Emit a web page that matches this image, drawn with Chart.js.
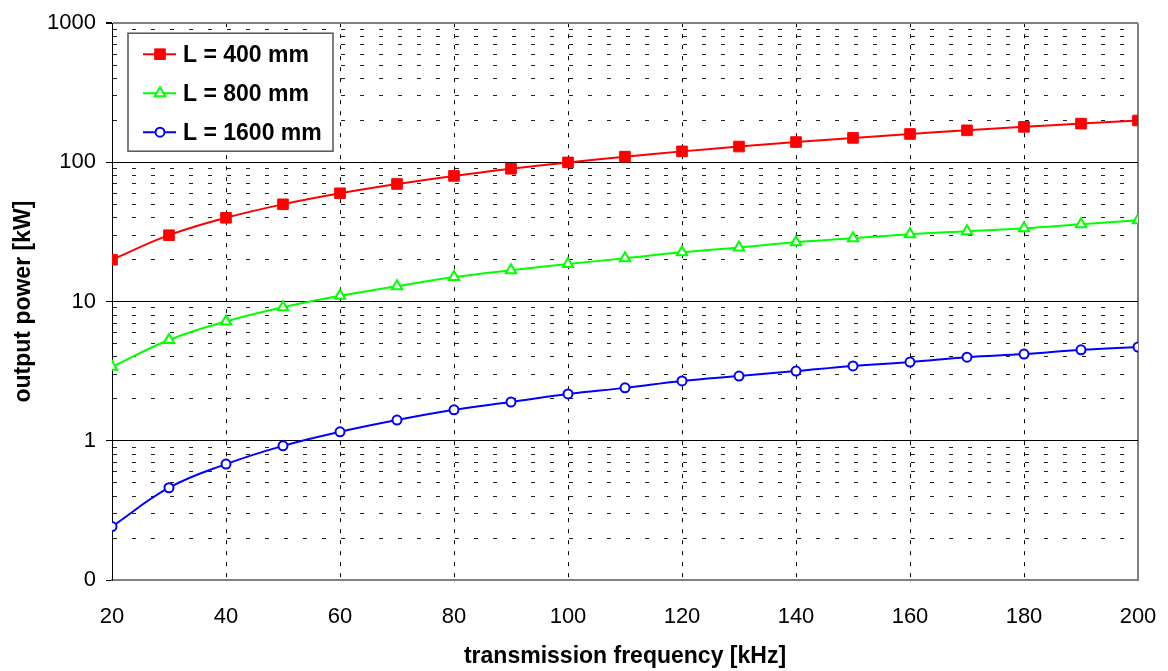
<!DOCTYPE html>
<html>
<head>
<meta charset="utf-8">
<script src="https://cdn.jsdelivr.net/npm/chart.js@4"></script>
<style>
  html, body { margin: 0; padding: 0; background: #fff; }
  #wrap { width: 1168px; height: 671px; }
</style>
</head>
<body>
<div id="wrap"><canvas id="powerChart"></canvas></div>
<script>
// frequencies [kHz]
var freq = [20, 30, 40, 50, 60, 70, 80, 90, 100, 110, 120, 130, 140, 150, 160, 170, 180, 190, 200];
// output power [kW] for each length
var power400 = [20, 30, 40, 50, 60, 70, 80, 90, 100, 110, 120, 130, 140, 150, 160, 170, 180, 190, 200];
var power800 = [3.4, 5.3, 7.2, 9.1, 11, 12.9, 15, 16.8, 18.6, 20.5, 22.6, 24.5, 26.7, 28.5, 30.5, 32, 33.6, 36, 38.4];
var power1600 = [0.242, 0.46, 0.68, 0.92, 1.16, 1.41, 1.67, 1.9, 2.17, 2.4, 2.69, 2.92, 3.17, 3.45, 3.68, 3.99, 4.2, 4.5, 4.72];
var seriesLabels = ['L = 400 mm', 'L = 800 mm', 'L = 1600 mm'];
var yTicks = [0.1, 0.2, 0.3, 0.4, 0.5, 0.6, 0.7, 0.8, 0.9,
              1, 2, 3, 4, 5, 6, 7, 8, 9,
              10, 20, 30, 40, 50, 60, 70, 80, 90,
              100, 200, 300, 400, 500, 600, 700, 800, 900, 1000];

function pts(ys) {
  return freq.map(function(f, i) { return {x: f, y: ys[i]}; });
}

function isDecade(v) {
  var l = Math.log10(v);
  return Math.abs(l - Math.round(l)) < 1e-9;
}

var FONT = "'Liberation Sans', Arial, sans-serif";

// legend box drawn inside the plot area (top left)
var boxLegend = {
  id: 'boxLegend',
  afterDraw: function(chart) {
    var ctx = chart.ctx;
    var a = chart.chartArea;
    var x0 = a.left + 16, y0 = a.top + 10, w = 205, h = 118;
    ctx.save();
    ctx.fillStyle = '#fff';
    ctx.fillRect(x0, y0, w, h);
    ctx.strokeStyle = '#555';
    ctx.lineWidth = 1.5;
    ctx.strokeRect(x0, y0, w, h);
    chart.data.datasets.forEach(function(ds, i) {
      var y = y0 + 21 + i * 39;
      ctx.strokeStyle = ds.borderColor;
      ctx.lineWidth = 2;
      ctx.beginPath();
      ctx.moveTo(x0 + 15, y);
      ctx.lineTo(x0 + 48, y);
      ctx.stroke();
      ctx.fillStyle = ds.pointBackgroundColor;
      ctx.strokeStyle = ds.borderColor;
      ctx.lineWidth = ds.pointBorderWidth;
      Chart.helpers.drawPoint(ctx, {pointStyle: ds.pointStyle, radius: ds.pointRadius, rotation: 0, borderWidth: ds.pointBorderWidth}, x0 + 32, y);
      ctx.fillStyle = '#000';
      ctx.font = 'bold 23px ' + FONT;
      ctx.textBaseline = 'middle';
      ctx.textAlign = 'left';
      ctx.fillText(ds.label, x0 + 55, y + 1);
    });
    ctx.restore();
  }
};

new Chart(document.getElementById('powerChart').getContext('2d'), {
  type: 'line',
  data: {
    datasets: [{
      label: seriesLabels[0],
      data: pts(power400),
      borderColor: '#ff0000',
      borderWidth: 2,
      pointStyle: 'rect',
      pointRadius: 7.5,
      pointBackgroundColor: '#ff0000',
      pointBorderWidth: 1,
      tension: 0.4
    }, {
      label: seriesLabels[1],
      data: pts(power800),
      borderColor: '#00ff00',
      borderWidth: 2,
      pointStyle: 'triangle',
      pointRadius: 6,
      pointBackgroundColor: '#fff',
      pointBorderWidth: 2,
      tension: 0.4
    }, {
      label: seriesLabels[2],
      data: pts(power1600),
      borderColor: '#0000ff',
      borderWidth: 2,
      pointStyle: 'circle',
      pointRadius: 4.5,
      pointBackgroundColor: '#fff',
      pointBorderWidth: 2,
      tension: 0.4
    }]
  },
  options: {
    responsive: true,
    maintainAspectRatio: false,
    animation: false,
    layout: { padding: { left: 0, right: 30, top: 22, bottom: 0 } },
    plugins: {
      legend: { display: false },
      tooltip: { enabled: false }
    },
    scales: {
      x: {
        type: 'linear',
        min: 20,
        max: 200,
        afterFit: function(scale) {
          scale.height = 91;
          scale.paddingLeft = 0;
          scale.paddingRight = 0;
        },
        ticks: {
          stepSize: 20,
          padding: 24,
          color: '#000',
          font: { family: FONT, size: 22 }
        },
        grid: {
          drawTicks: false,
          color: function(c) {
            if (!c.tick) return '#000';
            if (c.tick.value === 20) return 'rgba(0,0,0,0)';
            if (c.tick.value === 200) return '#808080';
            return '#000';
          },
          lineWidth: function(c) { return c.tick && c.tick.value === 200 ? 2 : 1; }
        },
        border: {
          color: '#808080',
          width: 2,
          dash: function(c) { return c.tick && c.tick.value !== 200 ? [4, 7] : []; }
        },
        title: {
          display: true,
          text: 'transmission frequency [kHz]',
          color: '#000',
          font: { family: FONT, size: 23, weight: 'bold' },
          padding: { top: 0, bottom: 1 }
        }
      },
      y: {
        type: 'logarithmic',
        min: 0.1,
        max: 1000,
        afterFit: function(scale) { scale.width = 112; },
        afterBuildTicks: function(scale) {
          scale.ticks = yTicks.map(function(v) { return {value: v}; });
        },
        ticks: {
          autoSkip: false,
          padding: 10,
          color: '#000',
          font: { family: FONT, size: 22 },
          callback: function(v) {
            if (!isDecade(v)) return '';
            return v < 1 ? '0' : String(Math.round(v));
          }
        },
        grid: {
          drawTicks: true,
          tickLength: 6,
          tickColor: function(c) { return c.tick && isDecade(c.tick.value) ? '#000' : 'rgba(0,0,0,0)'; },
          color: function(c) {
            if (!c.tick) return '#000';
            if (c.tick.value === 1000) return '#808080';
            if (c.tick.value === 0.1) return 'rgba(0,0,0,0)';
            return isDecade(c.tick.value) ? '#000' : '#222';
          },
          lineWidth: function(c) { return c.tick && c.tick.value === 1000 ? 2 : 1; }
        },
        border: {
          color: '#000',
          width: 1,
          dash: function(c) { return c.tick && !isDecade(c.tick.value) ? [4, 15] : []; }
        },
        title: {
          display: true,
          text: 'output power [kW]',
          color: '#000',
          font: { family: FONT, size: 23, weight: 'bold' },
          padding: { top: 10, bottom: 0 }
        }
      }
    }
  },
  plugins: [boxLegend]
});
</script>
</body>
</html>
